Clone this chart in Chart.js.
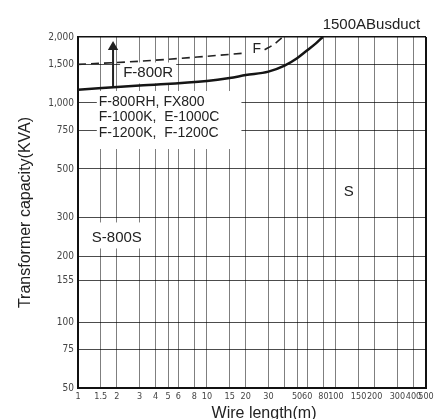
<!DOCTYPE html>
<html>
<head>
<meta charset="utf-8">
<script src="https://cdn.jsdelivr.net/npm/chart.js@4"></script>
<style>
  html, body { margin: 0; padding: 0; background: #fff; }
  #wrap { width: 448px; height: 419px; }
</style>
</head>
<body>
<div id="wrap"><canvas id="busChart" width="448" height="419"></canvas></div>
<script>
const xTicks = [1, 1.5, 2, 3, 4, 5, 6, 8, 10, 15, 20, 30, 40, 50, 60, 80, 100, 150, 200, 300, 400, 500];
const xTickLabels = ['1', '1.5', '2', '3', '4', '5', '6', '8', '10', '15', '20', '30', '', '50', '60', '80', '100', '150', '200', '300', '400', '500'];
const yTicks = [50, 75, 100, 155, 200, 300, 500, 750, 1000, 1500, 2000];
const yTickLabels = ['50', '75', '100', '155', '200', '300', '500', '750', '1,000', '1,500', '2,000'];

// 1500A busduct limit (solid line)
const solidLength = [1, 3, 10, 15, 20, 30, 40, 50, 60, 70, 79];
const solidKva = [1150, 1200, 1260, 1300, 1340, 1390, 1480, 1600, 1740, 1870, 2000];

// "F" limit (dashed line), broken where the F label sits
const dashLength = [1, 3, 8.4, 20, 24, 28, 33, 38];
const dashKva = [1500, 1550, 1620, 1690, null, 1750, 1850, 1980];

// arrow pointing up from the lower group
const arrowLength = [1.87, 1.87];
const arrowKva = [1180, 1800];

const FONT = "'Liberation Sans', Arial, sans-serif";
const TICK_FONT = "'Liberation Sans Narrow', 'DejaVu Sans Condensed', 'Liberation Sans', sans-serif";

const toXY = (xs, ys) => xs.map((x, i) => ({ x: x, y: ys[i] }));

// text notes, placed in data coordinates
const notesPlugin = {
  id: 'notes',
  beforeDatasetsDraw(chart) {
    const { ctx, scales: { x, y }, chartArea } = chart;
    ctx.save();

    function note(lines, xv, yv, size, align, pad, lh) {
      ctx.font = size + 'px ' + FONT;
      const px = x.getPixelForValue(xv);
      const py = y.getPixelForValue(yv);
      const w = Math.max(...lines.map(t => ctx.measureText(t).width));
      const step = lh || size;
      const left = align === 'left' ? px : px - w / 2;
      if (pad) {
        const top = py - size * 0.5;
        const bottom = py + step * (lines.length - 1) + size * 0.5;
        ctx.fillStyle = '#fff';
        ctx.fillRect(left - pad[3], top - pad[0], w + pad[1] + pad[3], bottom - top + pad[0] + pad[2]);
      }
      ctx.fillStyle = '#222';
      ctx.textAlign = 'left';
      ctx.textBaseline = 'middle';
      lines.forEach((t, i) => ctx.fillText(t, left, py + i * step));
    }

    note(['F-800RH, FX800', 'F-1000K,  E-1000C', 'F-1200K,  F-1200C'], 1.45, 1010, 14, 'left', [4, 22, 9, 2], 15.5);
    note(['F-800R'], 3.5, 1370, 15, 'center', [3, 3, 3, 3]);
    note(['S-800S'], 2, 242, 15, 'center', [8, 4, 3, 4]);
    note(['S'], 126, 392, 15, 'center', null);
    note(['F'], 24.4, 1764, 14, 'center', null);

    // top label
    ctx.font = '15px ' + FONT;
    ctx.fillStyle = '#222';
    ctx.textAlign = 'left';
    ctx.textBaseline = 'alphabetic';
    ctx.fillText('1500ABusduct', x.getPixelForValue(79), chartArea.top - 8);

    // x axis title
    ctx.font = '16px ' + FONT;
    ctx.textAlign = 'center';
    ctx.fillText('Wire length(m)', (chartArea.left + chartArea.right) / 2 + 12, 418);
    ctx.restore();
  }
};

const ctx = document.getElementById('busChart').getContext('2d');

new Chart(ctx, {
  type: 'line',
  data: {
    datasets: [
      {
        label: '1500A Busduct',
        data: toXY(solidLength, solidKva),
        borderColor: '#151515',
        borderWidth: 2.5,
        pointRadius: 0,
        cubicInterpolationMode: 'monotone',
        fill: false
      },
      {
        label: 'F',
        data: toXY(dashLength, dashKva),
        borderColor: '#222',
        borderWidth: 1.6,
        borderDash: [8, 5],
        pointRadius: 0,
        cubicInterpolationMode: 'monotone',
        fill: false
      },
      {
        label: 'arrow',
        data: toXY(arrowLength, arrowKva),
        borderColor: '#222',
        backgroundColor: '#222',
        borderWidth: 2,
        pointStyle: 'triangle',
        pointRadius: [0, 4],
        fill: false
      }
    ]
  },
  options: {
    responsive: false,
    animation: false,
    devicePixelRatio: 1,
    layout: { padding: { top: 37, right: 22, left: 0, bottom: 0 } },
    plugins: {
      legend: { display: false },
      tooltip: { enabled: false }
    },
    scales: {
      x: {
        type: 'logarithmic',
        min: 1,
        max: 500,
        afterBuildTicks: s => { s.ticks = xTicks.map(v => ({ value: v })); },
        afterFit: s => { s.height = 31; },
        grid: {
          drawTicks: false,
          color: c => (c.tick && c.tick.value === 500 ? '#111' : 'rgba(0,0,0,0.5)'),
          lineWidth: c => (c.tick && c.tick.value === 500 ? 2 : 1)
        },
        border: { color: '#111', width: 2 },
        ticks: {
          autoSkip: false,
          maxRotation: 0,
          minRotation: 0,
          padding: 3,
          color: '#444',
          font: { family: TICK_FONT, size: 9 },
          callback: (v, i) => xTickLabels[i]
        }
      },
      y: {
        type: 'logarithmic',
        min: 50,
        max: 2000,
        afterBuildTicks: s => { s.ticks = yTicks.map(v => ({ value: v })); },
        afterFit: s => { s.width = 78; },
        grid: {
          drawTicks: false,
          color: c => (c.tick && c.tick.value === 2000 ? '#111' : 'rgba(0,0,0,0.7)'),
          lineWidth: c => (c.tick && c.tick.value === 2000 ? 1.5 : 1)
        },
        border: { color: '#111', width: 2 },
        ticks: {
          autoSkip: false,
          padding: 4,
          color: '#444',
          font: { family: TICK_FONT, size: 10 },
          callback: (v, i) => yTickLabels[i]
        },
        title: {
          display: true,
          text: 'Transformer capacity(KVA)',
          color: '#222',
          font: { family: FONT, size: 16 },
          padding: { top: 16, bottom: 0 }
        }
      }
    }
  },
  plugins: [notesPlugin]
});
</script>
</body>
</html>
